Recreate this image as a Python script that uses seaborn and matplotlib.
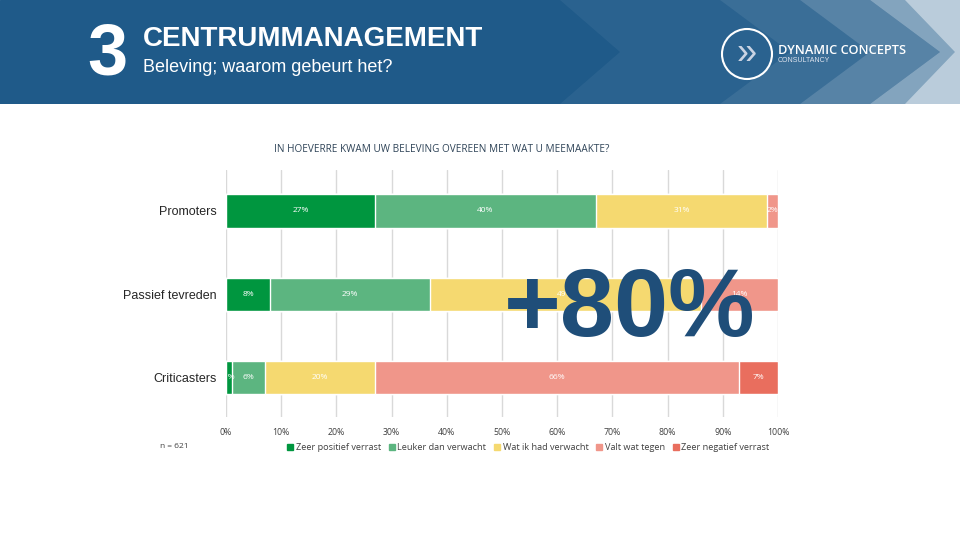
import numpy as np
import pandas as pd
import seaborn as sns
import matplotlib.pyplot as plt
from matplotlib.patches import Polygon, Circle
from matplotlib.lines import Line2D

# data
categorieen = ["Promoters", "Passief tevreden", "Criticasters"]
reeksen = ["Zeer positief verrast", "Leuker dan verwacht", "Wat ik had verwacht",
           "Valt wat tegen", "Zeer negatief verrast"]
zeer_positief = [27, 8, 1]
leuker = [40, 29, 6]
verwacht = [31, 49, 20]
tegen = [2, 14, 66]
zeer_negatief = [0, 0, 7]
kleuren = ["#00963F", "#5CB580", "#F5D970", "#F0968A", "#E96E5E"]
ticks = list(range(0, 101, 10))

waarden = np.array([zeer_positief, leuker, verwacht, tegen, zeer_negatief])
cum = waarden.cumsum(axis=0)

sns.set_style("white")
plt.rcParams['font.family'] = ['Liberation Sans', 'DejaVu Sans']
kleinfont = ["Open Sans", "DejaVu Sans"]

fig = plt.figure(figsize=(9.6, 5.4), dpi=100)

# header band
hax = fig.add_axes([0, 1 - 104 / 540, 1, 104 / 540])
hax.set_xlim(0, 960)
hax.set_ylim(104, 0)
hax.axis("off")
hax.add_patch(Polygon([(0, 0), (960, 0), (960, 104), (0, 104)], color="#1F5A89"))
for pts, a in [
    ([(560, 0), (720, 0), (790, 52), (720, 104), (560, 104), (620, 52)], 0.05),
    ([(720, 0), (800, 0), (870, 52), (800, 104), (720, 104), (790, 52)], 0.12),
    ([(800, 0), (870, 0), (940, 52), (870, 104), (800, 104), (870, 52)], 0.25),
    ([(870, 0), (960, 0), (960, 104), (870, 104), (940, 52)], 0.45),
    ([(905, 0), (960, 0), (960, 104), (905, 104), (955, 52)], 0.45),
]:
    hax.add_patch(Polygon(pts, closed=True, color="white", alpha=a, lw=0))
hax.add_patch(Circle((747, 54), 25, fill=False, ec="white", lw=1.5))
hax.text(747, 54, "\u00bb", color="#C9D3E3", fontsize=26, ha="center", va="center")
hax.text(778, 50, "DYNAMIC CONCEPTS", color="white", fontsize=9.2, va="center",
         family=kleinfont, fontweight="semibold")
hax.text(778, 60, "CONSULTANCY", color="#DDE3EE", fontsize=5, va="center")
hax.text(107, 55, "3", color="white", fontsize=52, fontweight="bold", ha="center", va="center")
hax.text(143, 39, "CENTRUMMANAGEMENT", color="white", fontsize=20, fontweight="bold", va="center")
hax.text(143, 67, "Beleving; waarom gebeurt het?", color="white", fontsize=13, va="center")

# chart
ax = fig.add_axes([226 / 960, 1 - 417 / 540, 552 / 960, 247 / 540])
for i in range(len(reeksen) - 1, -1, -1):
    df = pd.DataFrame({"cat": categorieen, "cum": cum[i]})
    sns.barplot(data=df, x="cum", y="cat", orient="h", color=kleuren[i], width=0.4,
                edgecolor="white", linewidth=1, saturation=1, ax=ax)

for i in range(len(reeksen)):
    for j in range(len(categorieen)):
        v = waarden[i, j]
        if v > 0:
            xc = cum[i, j] - v / 2
            ax.text(xc, j, f"{v}%", color="white", fontsize=6, ha="center", va="center",
                    family=kleinfont)

ax.set_xlim(0, 100)
ax.set_ylim(2.47, -0.49)
ax.set_xticks(ticks)
ax.set_xticklabels([f"{t}%" for t in ticks], fontsize=6.3, color="#404040", family=kleinfont)
ax.tick_params(axis="y", labelsize=9, pad=7, length=0)
ax.tick_params(axis="x", length=0, pad=8)
ax.set_xlabel("")
ax.set_ylabel("")
ax.grid(True, axis="x", color="#D9D9D9", lw=1)
ax.set_axisbelow(True)
for s in ax.spines.values():
    s.set_visible(False)

handles = [Line2D([], [], marker="s", linestyle="", color=c, markersize=4) for c in kleuren]
fig.legend(handles, reeksen, loc="center", bbox_to_anchor=(528 / 960, 1 - 448 / 540),
           ncol=5, frameon=False, handletextpad=0.2, columnspacing=0.8,
           handlelength=0.8, labelcolor="#404040", prop={"family": kleinfont, "size": 6.6})

fig.text(160 / 960, 1 - 447 / 540, "n = 621", fontsize=6, color="#404040", va="center",
         family=kleinfont)
fig.text(442 / 960, 1 - 150 / 540, "IN HOEVERRE KWAM UW BELEVING OVEREEN MET WAT U MEEMAAKTE?",
         fontsize=7.2, color="#2F4458", ha="center", va="center", family=kleinfont)

fig.text(630 / 960, 1 - 336 / 540, "+80%", fontsize=70, color="#1F4E79", ha="center",
         va="baseline", fontweight="bold")

fig.savefig("out.png", dpi=100)
